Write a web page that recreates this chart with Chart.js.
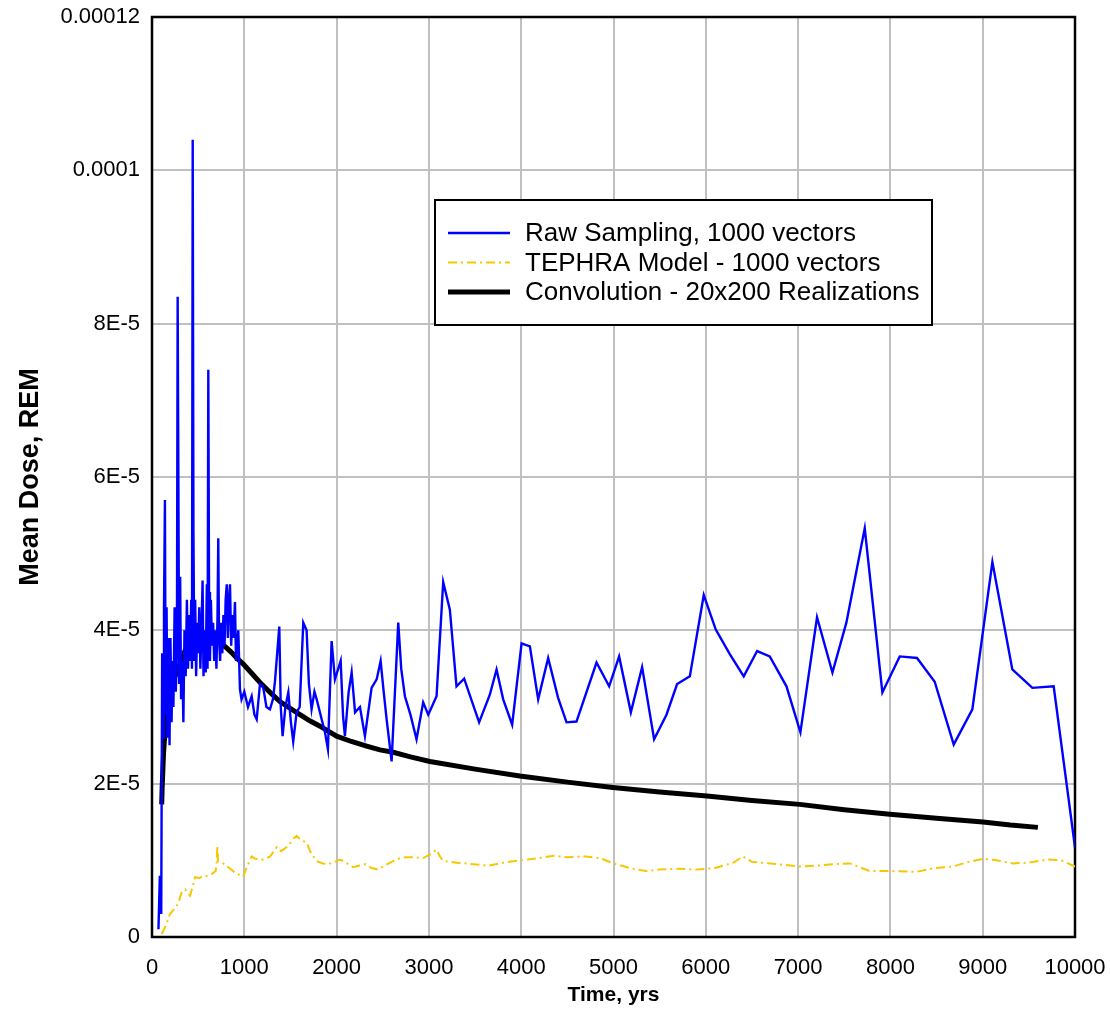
<!DOCTYPE html>
<html>
<head>
<meta charset="utf-8">
<title>Mean Dose vs Time</title>
<script src="https://cdn.jsdelivr.net/npm/chart.js@4.4.1/dist/chart.umd.min.js"></script>
<style>
    body { margin: 0; background: #fff; }
    #wrap { width: 1110px; height: 1012px; position: relative; }
</style>
</head>
<body>
<div id="wrap"><canvas id="doseChart"></canvas></div>
<script>
// dose values are in units of 1E-5 REM
const yTickLabels = ['0', '2E-5', '4E-5', '6E-5', '8E-5', '0.0001', '0.00012'];

const rawYears = [70, 85, 100, 110, 120, 130, 140, 148, 158, 168, 178, 190, 200, 212, 222, 232, 245, 258, 270, 278, 286, 294,
    305, 315, 328, 340, 352, 365, 378, 390, 402, 415, 425, 433, 441, 449, 458, 468, 478, 490, 500, 512, 524, 536, 548,
    558, 570, 582, 594, 602, 610, 618, 628, 638, 650, 662, 674, 686, 698, 710, 718, 726, 738, 750, 762, 774, 786, 798,
    810, 822, 834, 845, 858, 870, 882, 899, 910, 935, 953, 970, 1000, 1040, 1080, 1110, 1134, 1170, 1203, 1240, 1278,
    1310, 1332, 1379, 1395, 1415, 1445, 1477, 1505, 1530, 1567, 1600, 1639, 1675, 1700, 1729, 1760, 1784, 1838, 1874,
    1906, 1946, 1982, 2044, 2070, 2090, 2130, 2163, 2200, 2253, 2307, 2379, 2434, 2477, 2510, 2542, 2596, 2668, 2700,
    2740, 2800, 2866, 2938, 2993, 3083, 3155, 3227, 3299, 3382, 3544, 3660, 3733, 3805, 3902, 4004, 4094, 4184, 4292,
    4400, 4491, 4599, 4816, 4953, 5061, 5188, 5310, 5440, 5574, 5689, 5827, 5978, 6108, 6260, 6411, 6556, 6693, 6874,
    7025, 7205, 7372, 7523, 7722, 7913, 8101, 8288, 8480, 8686, 8888, 9105, 9321, 9538, 9769, 10000];
const rawDose = [0.1, 0.8, 0.3, 3.7, 2.6, 4.3, 5.7, 2.9, 4.3, 2.6, 3.9, 2.5, 3.9, 2.8, 3.6, 3.0, 4.3, 3.2, 3.8, 8.35, 5.9, 3.3,
    4.7, 3.1, 3.6, 2.8, 4.0, 3.4, 4.4, 3.5, 4.2, 3.6, 4.4, 3.5, 10.4, 5.3, 3.6, 4.4, 3.4, 4.1, 3.7, 4.3, 3.5, 4.0, 4.65,
    3.4, 4.0, 3.45, 4.6, 3.5, 7.4, 4.5, 3.6, 4.4, 3.8, 4.1, 3.6, 4.0, 3.5, 4.2, 5.2, 3.9, 3.6, 4.1, 3.7, 4.2, 3.8, 4.4,
    4.6, 3.9, 4.4, 4.6, 3.8, 4.2, 3.9, 4.37, 3.6, 4.0, 3.23, 3.1, 3.2, 3.0, 3.14, 2.9, 2.84, 3.3, 3.27, 3.0, 2.97,
    3.1, 3.33, 4.05, 3.0, 2.62, 3.0, 3.19, 2.8, 2.55, 2.93, 3.0, 4.1, 4.0, 3.3, 2.97, 3.2, 3.1, 2.84, 2.67,
    2.45, 3.86, 3.36, 3.6, 2.88, 2.62, 3.19, 3.45, 2.93, 3.0, 2.62, 3.25, 3.36, 3.6, 3.2, 2.84, 2.29, 4.1, 3.5,
    3.14, 2.9, 2.58, 3.06, 2.9, 3.14, 4.63, 4.27, 3.27, 3.37, 2.8, 3.16, 3.49, 3.1, 2.77, 3.83, 3.79, 3.1, 3.64,
    3.12, 2.8, 2.81, 3.58, 3.27, 3.66, 2.93, 3.52, 2.58, 2.9, 3.3, 3.4, 4.46, 4.01, 3.69, 3.4, 3.73, 3.66, 3.27,
    2.67, 4.17, 3.45, 4.1, 5.33, 3.19, 3.66, 3.64, 3.33, 2.51, 2.97, 4.89, 3.49, 3.25, 3.27, 1.17];

const tephraYears = [105, 150, 195, 230, 267, 300, 321, 360, 411, 440, 466, 510, 556, 600, 646, 690, 700, 708, 716, 760,
    827, 900, 960, 989, 1030, 1080, 1120, 1206, 1280, 1350, 1400, 1477, 1530, 1567, 1610, 1675, 1720, 1784, 1850,
    1910, 1980, 2036, 2100, 2180, 2240, 2307, 2380, 2451, 2530, 2614, 2690, 2758, 2850, 2938, 3020, 3083, 3120,
    3155, 3300, 3480, 3650, 3800, 4000, 4200, 4350, 4500, 4700, 4850, 5000, 5200, 5350, 5500, 5700, 5900, 6100,
    6300, 6400, 6500, 6700, 6850, 7018, 7200, 7400, 7560, 7776, 8000, 8281, 8480, 8677, 8850, 9003, 9150, 9328,
    9500, 9704, 9850, 10000];
const tephraDose = [0.04, 0.15, 0.3, 0.35, 0.4, 0.5, 0.58, 0.62, 0.54, 0.65, 0.78, 0.77, 0.79, 0.8, 0.82, 0.86, 0.95, 1.19,
    0.99, 0.97, 0.91, 0.84, 0.8, 0.79, 0.92, 1.05, 1.02, 1.01, 1.05, 1.17, 1.12, 1.19, 1.28, 1.32, 1.27, 1.23, 1.1,
    0.99, 0.96, 0.95, 0.98, 1.01, 0.97, 0.91, 0.93, 0.95, 0.9, 0.88, 0.94, 0.99, 1.03, 1.04, 1.04, 1.03, 1.08, 1.14,
    1.05, 0.99, 0.97, 0.95, 0.93, 0.97, 1.0, 1.03, 1.06, 1.04, 1.05, 1.03, 0.96, 0.89, 0.86, 0.88, 0.89, 0.88, 0.9,
    0.97, 1.05, 0.98, 0.96, 0.94, 0.92, 0.93, 0.95, 0.96, 0.86, 0.86, 0.85, 0.9, 0.92, 0.98, 1.02, 1.0, 0.96,
    0.97, 1.01, 1.0, 0.92];

const convYears = [105, 110, 125, 140, 165, 195, 230, 267, 320, 376, 430, 484, 550, 610, 670, 736, 800, 863, 925, 989,
    1080, 1170, 1280, 1386, 1500, 1603, 1710, 1820, 2000, 2160, 2325, 2470, 2614, 2800, 3011, 3500, 3985, 4500,
    4993, 5500, 6011, 6500, 7018, 7500, 7993, 8500, 9003, 9300, 9598];
const convDose = [1.73, 1.95, 2.4, 2.67, 2.95, 3.19, 3.35, 3.45, 3.62, 3.79, 3.87, 3.92, 3.95, 3.96, 3.92, 3.84, 3.78, 3.71,
    3.63, 3.56, 3.44, 3.32, 3.19, 3.07, 2.98, 2.9, 2.82, 2.75, 2.62, 2.55, 2.49, 2.44, 2.41, 2.35, 2.29, 2.19, 2.1,
    2.02, 1.95, 1.89, 1.84, 1.78, 1.73, 1.66, 1.6, 1.55, 1.5, 1.46, 1.43];

const seriesNames = ['Raw Sampling, 1000 vectors', 'TEPHRA Model - 1000 vectors', 'Convolution - 20x200 Realizations'];

function toPoints(xs, ys) {
    return xs.map((x, i) => ({ x: x, y: ys[i] }));
}

const fontFamily = 'Arial, "Liberation Sans", sans-serif';

// black frame round the plot area
const frameBox = {
    id: 'frameBox',
    beforeDatasetsDraw(chart) {
        const a = chart.chartArea;
        const ctx = chart.ctx;
        ctx.save();
        ctx.strokeStyle = '#000';
        ctx.lineWidth = 2.5;
        ctx.strokeRect(a.left, a.top, a.right - a.left, a.bottom - a.top);
        ctx.restore();
    }
};

// legend box sitting inside the plot
const boxLegend = {
    id: 'boxLegend',
    afterDraw(chart) {
        const a = chart.chartArea;
        const ctx = chart.ctx;
        const left = a.left + 283, top = a.top + 183, w = 497, h = 125;
        ctx.save();
        ctx.fillStyle = '#fff';
        ctx.fillRect(left, top, w, h);
        ctx.strokeStyle = '#000';
        ctx.lineWidth = 2;
        ctx.strokeRect(left, top, w, h);
        ctx.font = '26px ' + fontFamily;
        ctx.textBaseline = 'middle';
        chart.data.datasets.forEach((ds, i) => {
            const y = top + 33 + i * 29.5;
            ctx.beginPath();
            ctx.strokeStyle = ds.borderColor;
            ctx.lineWidth = ds.borderWidth;
            ctx.setLineDash(ds.borderDash || []);
            ctx.moveTo(left + 13, y);
            ctx.lineTo(left + 75, y);
            ctx.stroke();
            ctx.setLineDash([]);
            ctx.fillStyle = '#000';
            ctx.fillText(ds.label, left + 90, y + 1);
        });
        ctx.restore();
    }
};

const ctx = document.getElementById('doseChart').getContext('2d');

new Chart(ctx, {
    type: 'line',
    data: {
        datasets: [
            {
                label: seriesNames[0],
                data: toPoints(rawYears, rawDose),
                borderColor: '#0000ff',
                borderWidth: 2.4,
                pointRadius: 0
            },
            {
                label: seriesNames[1],
                data: toPoints(tephraYears, tephraDose),
                borderColor: '#f5c800',
                borderWidth: 2,
                borderDash: [9, 4, 2, 4],
                pointRadius: 0
            },
            {
                label: seriesNames[2],
                data: toPoints(convYears, convDose),
                borderColor: '#000000',
                borderWidth: 5,
                pointRadius: 0
            }
        ]
    },
    options: {
        responsive: true,
        maintainAspectRatio: false,
        animation: false,
        layout: { padding: { left: 0, top: 17, right: 35, bottom: 0 } },
        plugins: {
            legend: { display: false },
            tooltip: { enabled: false }
        },
        scales: {
            x: {
                type: 'linear',
                min: 0,
                max: 10000,
                ticks: {
                    stepSize: 1000,
                    padding: 18,
                    color: '#000',
                    font: { family: fontFamily, size: 22 },
                    callback: v => String(v)
                },
                grid: { color: '#c0c0c0', lineWidth: 2, drawTicks: false },
                border: { display: false },
                title: {
                    display: true,
                    text: 'Time, yrs',
                    color: '#000',
                    font: { family: fontFamily, size: 21, weight: 'bold' },
                    padding: { top: 4, bottom: 4 }
                },
                afterFit: scale => {
                    scale.height = 75;
                    scale.paddingLeft = 0;
                    scale.paddingRight = 0;
                }
            },
            y: {
                min: 0,
                max: 12,
                ticks: {
                    stepSize: 2,
                    padding: 12,
                    color: '#000',
                    font: { family: fontFamily, size: 22 },
                    callback: v => yTickLabels[Math.round(v / 2)]
                },
                grid: { color: '#c0c0c0', lineWidth: 2, drawTicks: false },
                border: { display: false },
                title: {
                    display: true,
                    text: 'Mean Dose, REM',
                    color: '#000',
                    font: { family: fontFamily, size: 27, weight: 'bold' },
                    padding: { top: 14, bottom: 0 }
                },
                afterFit: scale => {
                    scale.width = 152;
                    scale.paddingTop = 0;
                    scale.paddingBottom = 0;
                }
            }
        }
    },
    plugins: [frameBox, boxLegend]
});
</script>
</body>
</html>
